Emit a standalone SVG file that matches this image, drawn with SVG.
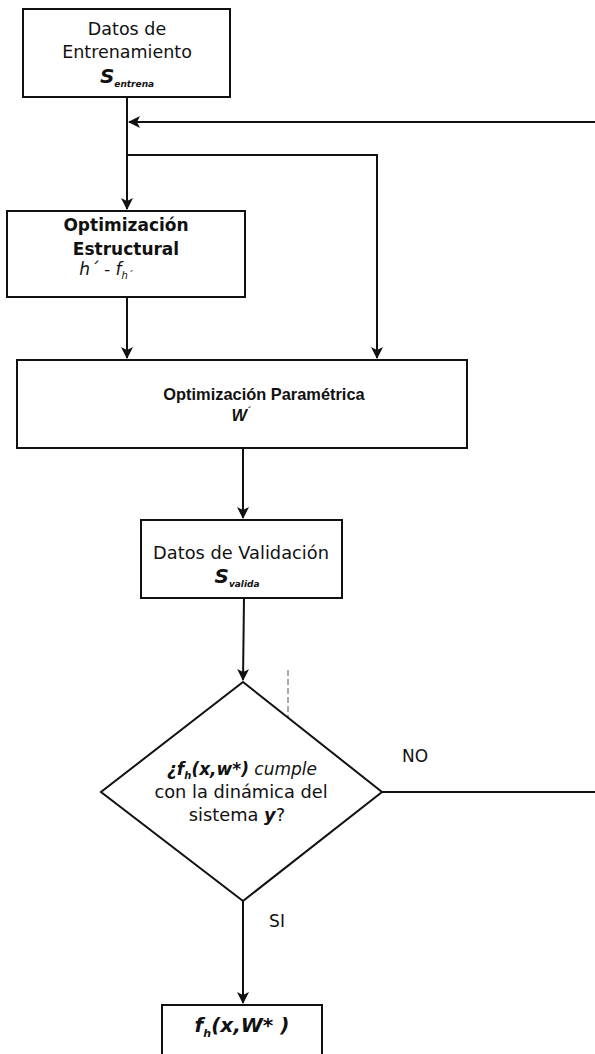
<svg xmlns="http://www.w3.org/2000/svg" width="595" height="1054" viewBox="0 0 595 1054">
<style>
.box{fill:#fff;stroke:#111;stroke-width:2}
.ln{fill:none;stroke:#111;stroke-width:2}
.t{font-family:"DejaVu Sans",sans-serif;fill:#111;text-anchor:middle}
.b{font-weight:bold}
.i{font-style:italic}
.lb{font-family:"Liberation Sans",Arial,sans-serif;fill:#111;text-anchor:middle;font-weight:bold}
</style>
<defs>
<marker id="ah" viewBox="0 0 12 12" refX="11" refY="6" markerWidth="12" markerHeight="12" markerUnits="userSpaceOnUse" orient="auto">
<path d="M0,0 L12,6 L0,12 L3,6 Z" fill="#111"/>
</marker>
</defs>
<rect width="595" height="1054" fill="#fff"/>
<g id="connectors">
<polyline class="ln" points="127,97 127,209" marker-end="url(#ah)"/>
<polyline class="ln" points="595,122 129,122" marker-end="url(#ah)"/>
<polyline class="ln" points="127,155 377,155 377,358" marker-end="url(#ah)"/>
<polyline class="ln" points="127,297 127,358" marker-end="url(#ah)"/>
<polyline class="ln" points="243,448 243,518" marker-end="url(#ah)"/>
<polyline class="ln" points="244,598 243,680" marker-end="url(#ah)"/>
<polyline class="ln" points="382,792 595,792"/>
<polyline class="ln" points="243,901 243,1003" marker-end="url(#ah)"/>
<text class="t" x="415" y="762" font-size="17">NO</text>
<text class="t" x="277" y="927" font-size="17">SI</text>
<line x1="288" y1="670" x2="288" y2="740" stroke="#555" stroke-width="1" stroke-dasharray="6,3"/>
</g>
<g id="n1">
<rect class="box" x="23" y="9" width="207" height="88"/>
<text class="t" x="127" y="35" font-size="17.5">Datos de</text>
<text class="t" x="127" y="58" font-size="17.5">Entrenamiento</text>
<text class="t b i" x="127" y="83" font-size="20">S<tspan font-size="9" dy="4">entrena</tspan></text>
</g>
<g id="n2">
<rect class="box" x="7" y="211" width="238" height="86"/>
<text class="t b" x="126" y="231" font-size="17">Optimización</text>
<text class="t b" x="126" y="255" font-size="17">Estructural</text>
<text class="t i" x="106" y="275" font-size="17">h´ - f<tspan font-size="10" dy="4">h´</tspan></text>
</g>
<g id="n3">
<rect class="box" x="17" y="360" width="450" height="88"/>
<text class="lb" x="264" y="400" font-size="16.4">Optimización Paramétrica</text>
<text class="lb i" x="241" y="421" font-size="16.4">W<tspan font-size="10" dy="-7">´</tspan></text>
</g>
<g id="n4">
<rect class="box" x="141" y="520" width="201" height="78"/>
<text class="t" x="241" y="559" font-size="17.8">Datos de Validación</text>
<text class="t b i" x="237" y="583" font-size="20">S<tspan font-size="9" dy="4">valida</tspan></text>
</g>
<g id="n5">
<polygon class="box" points="243,682 382,792 243,901 101,792"/>
<text class="t" x="242" y="775" font-size="17"><tspan class="b i">¿f</tspan><tspan class="b i" font-size="10" dy="4">h</tspan><tspan class="b i" dy="-4">(x,w*)</tspan><tspan class="i"> cumple</tspan></text>
<text class="t" x="241" y="798" font-size="17.8">con la dinámica del</text>
<text class="t" x="237" y="821" font-size="17.8">sistema <tspan class="b i">y</tspan>?</text>
</g>
<g id="n6">
<rect class="box" x="162" y="1005" width="160" height="60"/>
<text class="t b i" x="242" y="1032" font-size="20">f<tspan font-size="11" dy="5">h</tspan><tspan dy="-5">(x,W* )</tspan></text>
</g>
</svg>
